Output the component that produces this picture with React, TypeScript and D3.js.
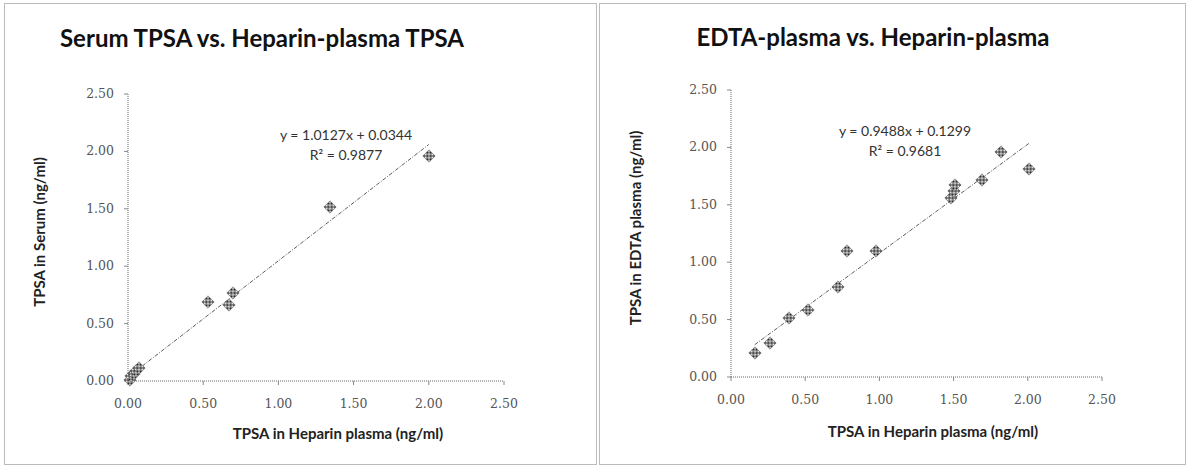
import React from 'react'
import * as d3 from 'd3'

// tick values shared by both panels
const ticks = [0, 0.5, 1, 1.5, 2, 2.5]

// left panel: serum vs heparin plasma
const serumHeparinX = [0.01, 0.02, 0.04, 0.05, 0.07, 0.53, 0.67, 0.7, 1.34, 2.0]
const serumValues = [0.01, 0.04, 0.06, 0.09, 0.11, 0.69, 0.66, 0.77, 1.52, 1.96]

// right panel: EDTA plasma vs heparin plasma
const edtaHeparinX = [0.16, 0.26, 0.39, 0.52, 0.72, 0.78, 0.98, 1.48, 1.5, 1.51, 1.69, 1.82, 2.01]
const edtaValues = [0.21, 0.3, 0.51, 0.58, 0.78, 1.1, 1.1, 1.56, 1.62, 1.67, 1.72, 1.96, 1.81]

const panels = [
  {
    title: 'Serum TPSA vs. Heparin-plasma TPSA',
    xLabel: 'TPSA in Heparin plasma (ng/ml)',
    yLabel: 'TPSA in Serum (ng/ml)',
    xs: serumHeparinX,
    ys: serumValues,
    slope: 1.0127,
    intercept: 0.0344,
    eq: 'y = 1.0127x + 0.0344',
    r2: 'R² = 0.9877',
    box: { x0: 4.5, x1: 596.5 },
    plot: { left: 128, right: 504, top: 94, bottom: 381 },
    titlePos: [262, 47],
    eqPos: [346, 140],
    xLabelPos: [338, 439],
    yLabelPos: [45, 232],
  },
  {
    title: 'EDTA-plasma vs. Heparin-plasma',
    xLabel: 'TPSA in Heparin plasma (ng/ml)',
    yLabel: 'TPSA in EDTA plasma (ng/ml)',
    xs: edtaHeparinX,
    ys: edtaValues,
    slope: 0.9488,
    intercept: 0.1299,
    eq: 'y = 0.9488x + 0.1299',
    r2: 'R² = 0.9681',
    box: { x0: 599.5, x1: 1185.5 },
    plot: { left: 731, right: 1102, top: 90, bottom: 377 },
    titlePos: [873, 46],
    eqPos: [905, 136],
    xLabelPos: [933, 437],
    yLabelPos: [641, 228],
  },
]

const titleFont = 'Lato, "Open Sans", sans-serif'
const tickFont = '"DejaVu Serif", "Liberation Serif", serif'

function Panel({ p, i }: { p: any; i: number }) {
  const x = d3.scaleLinear().domain([0, 2.5]).range([p.plot.left, p.plot.right])
  const y = d3.scaleLinear().domain([0, 2.5]).range([p.plot.bottom, p.plot.top])
  // square turned 45deg, ~12px across
  const marker = d3.symbol().type(d3.symbolSquare).size(76)
  const xmin = d3.min(p.xs as number[])!
  const xmax = d3.max(p.xs as number[])!
  const line = d3.line<number>()
    .x(d => x(d))
    .y(d => y(p.slope * d + p.intercept))

  return (
    <g>
      <rect x={p.box.x0} y={3.5} width={p.box.x1 - p.box.x0} height={461}
        fill="none" stroke="#777" strokeDasharray="1,1" />
      <text x={p.titlePos[0]} y={p.titlePos[1]} textAnchor="middle" fontFamily={titleFont}
        fontWeight="bold" fontSize={24} fill="#111">{p.title}</text>

      {/* axes */}
      <line x1={p.plot.left} x2={p.plot.left} y1={p.plot.top} y2={p.plot.bottom}
        stroke="#666" strokeDasharray="1,1" />
      <line x1={p.plot.left} x2={p.plot.right} y1={p.plot.bottom} y2={p.plot.bottom}
        stroke="#666" strokeDasharray="1,1" />
      {ticks.map(t => (
        <g key={'y' + t}>
          <line x1={p.plot.left - 4} x2={p.plot.left} y1={y(t)} y2={y(t)} stroke="#888" />
          <text x={p.plot.left - 14} y={y(t) + 4} textAnchor="end" fontFamily={tickFont}
            fontSize={12.5} fill="#555">{t.toFixed(2)}</text>
        </g>
      ))}
      {ticks.map(t => (
        <g key={'x' + t}>
          <line x1={x(t)} x2={x(t)} y1={p.plot.bottom} y2={p.plot.bottom + 4} stroke="#888" />
          <text x={x(t)} y={p.plot.bottom + 27} textAnchor="middle" fontFamily={tickFont}
            fontSize={12.5} fill="#555">{t.toFixed(2)}</text>
        </g>
      ))}

      <text x={p.xLabelPos[0]} y={p.xLabelPos[1]} textAnchor="middle" fontFamily={titleFont}
        fontWeight="bold" fontSize={15} fill="#222">{p.xLabel}</text>
      <text transform={`translate(${p.yLabelPos[0]},${p.yLabelPos[1]}) rotate(-90)`}
        textAnchor="middle" fontFamily={titleFont} fontWeight="bold" fontSize={15}
        fill="#222">{p.yLabel}</text>

      {/* trendline */}
      <path d={line([xmin, xmax]) || ''} fill="none" stroke="#333" strokeWidth={0.8}
        strokeDasharray="4,1.5,1,1.5" />

      {p.xs.map((d: number, j: number) => (
        <path key={j} d={marker() || ''}
          transform={`translate(${Math.round(x(d))},${Math.round(y(p.ys[j]))}) rotate(45)`}
          fill={`url(#checker${i})`} stroke="#555" strokeWidth={0.5} />
      ))}

      <text x={p.eqPos[0]} y={p.eqPos[1]} textAnchor="middle" fontFamily={titleFont}
        fontSize={14} fill="#333">{p.eq}</text>
      <text x={p.eqPos[0]} y={p.eqPos[1] + 20} textAnchor="middle" fontFamily={titleFont}
        fontSize={14} fill="#333">{p.r2}</text>
    </g>
  )
}

export default function App() {
  return (
    <svg width={1189} height={468} style={{ position: 'absolute', left: 0, top: 0, background: '#fff' }}>
      <defs>
        {panels.map((_, i) => (
          <pattern key={i} id={'checker' + i} width={2} height={2} patternUnits="userSpaceOnUse">
            <rect width={2} height={2} fill="#fff" />
            <rect width={1} height={1} fill="#111" />
            <rect x={1} y={1} width={1} height={1} fill="#111" />
          </pattern>
        ))}
      </defs>
      {panels.map((p, i) => <Panel key={i} p={p} i={i} />)}
    </svg>
  )
}
